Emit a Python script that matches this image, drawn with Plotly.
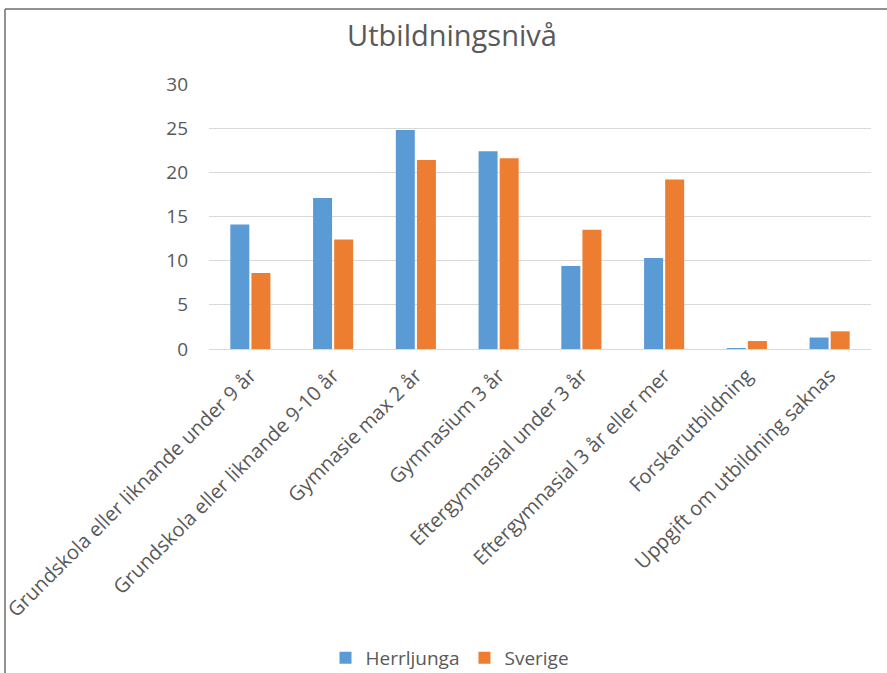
import plotly.graph_objects as go

categories = [
    "Grundskola eller liknande under 9 år",
    "Grundskola eller liknande 9-10 år",
    "Gymnasie max 2 år",
    "Gymnasium 3 år",
    "Eftergymnasial under 3 år",
    "Eftergymnasial 3 år eller mer",
    "Forskarutbildning",
    "Uppgift om utbildning saknas",
]
herrljunga = [14.1, 17.1, 24.8, 22.4, 9.4, 10.3, 0.1, 1.3]
sverige = [8.6, 12.4, 21.4, 21.6, 13.5, 19.2, 0.9, 2.0]
y_ticks = [0, 5, 10, 15, 20, 25, 30]

FONT = "Open Sans"
GRAY = "#595959"

fig = go.Figure()
fig.add_trace(go.Bar(name="Herrljunga", x=categories, y=herrljunga,
                     marker=dict(color="#5B9BD5", line=dict(width=0))))
fig.add_trace(go.Bar(name="Sverige", x=categories, y=sverige,
                     marker=dict(color="#ED7D31", line=dict(width=0))))

L, R, T, B = 209, 16, 84, 324
W, H = 887, 673
pw, ph = W - L - R, H - T - B

def px(x):
    return (x - L) / pw

def py(y):
    return (H - B - y) / ph

fig.update_layout(
    width=W, height=H,
    margin=dict(l=L, r=R, t=T, b=B, autoexpand=False),
    paper_bgcolor="white", plot_bgcolor="white",
    font=dict(family=FONT, color=GRAY, size=18),
    title=dict(text="Utbildningsnivå", x=452 / W, xref="container", xanchor="center",
               y=1 - 36 / H, yref="container", yanchor="middle",
               font=dict(family=FONT, size=29, color=GRAY)),
    barmode="group", bargap=0.49, bargroupgap=0.1,
    showlegend=True,
    legend=dict(orientation="h", x=450 / W, xref="container", xanchor="center",
                y=1 - 658 / H, yref="container", yanchor="middle",
                font=dict(family=FONT, size=19, color=GRAY),
                itemsizing="constant", itemwidth=30, traceorder="normal"),
    xaxis=dict(tickangle=-45, showgrid=False, showline=False, zeroline=False,
               ticks="outside", ticklen=6, tickcolor="rgba(0,0,0,0)",
               tickfont=dict(family=FONT, size=20, color=GRAY),
               automargin=False),
    yaxis=dict(range=[0, 30], tickvals=y_ticks, showgrid=True, gridcolor="#D9D9D9",
               gridwidth=1.3, zeroline=True, zerolinecolor="#D9D9D9", zerolinewidth=1.3,
               showline=False, ticks="", ticklabelstandoff=20,
               tickfont=dict(family=FONT, size=19, color=GRAY), automargin=False),
    shapes=[
        dict(type="line", xref="paper", yref="paper", x0=px(5), x1=px(5),
             y0=py(9), y1=py(673), line=dict(color="#6E6E6E", width=1.5)),
        dict(type="line", xref="paper", yref="paper", x0=px(5), x1=px(887),
             y0=py(9), y1=py(9), line=dict(color="#6E6E6E", width=1.5)),
    ],
)

fig.write_html(
    "out.html",
    config={"displayModeBar": False},
    post_script="document.body.style.margin='0';document.body.style.overflow='hidden';",
)
